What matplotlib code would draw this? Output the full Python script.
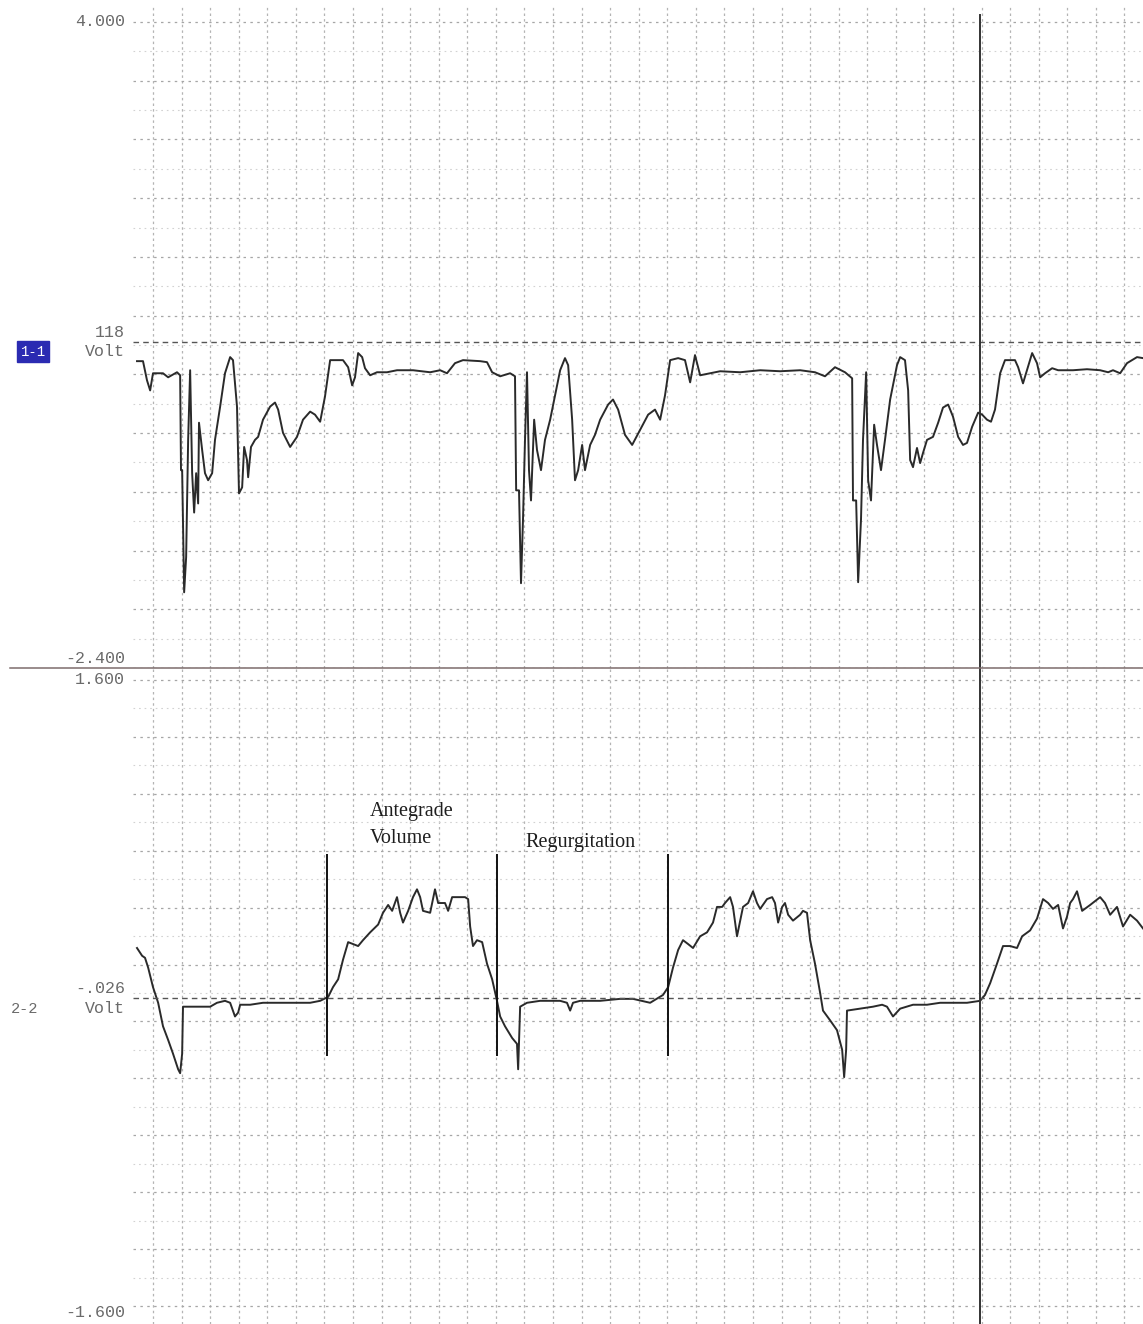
import numpy as np
import matplotlib
matplotlib.use("Agg")
import matplotlib.pyplot as plt
from matplotlib.lines import Line2D
from matplotlib.ticker import MultipleLocator
from matplotlib.transforms import blended_transform_factory

# ---- channel 1 (pressure-type signal), time in ms, value in volts ----
t_ch1 = [14, 35, 49, 60, 70, 105, 123, 154, 165, 168, 172, 179, 186, 193, 200, 207, 214, 221, 228, 231,
         242, 252, 263, 277, 287, 305, 322, 340, 350, 364, 371, 382, 389, 399, 403, 413, 427, 438, 455, 480,
         497, 508, 525, 550, 574, 595, 620, 637, 655, 672, 690, 707, 735, 753, 767, 777, 788, 802, 812, 830,
         854, 889, 924, 980, 1040, 1075, 1099, 1127, 1155, 1215, 1239, 1257, 1285, 1320, 1337,
         1341, 1351, 1358, 1365, 1372, 1379, 1386, 1393, 1404, 1414, 1428, 1442, 1460, 1477, 1495, 1512,
         1523, 1537, 1547, 1558, 1572, 1582, 1600, 1617, 1635, 1663, 1680, 1698, 1722, 1747, 1775, 1803,
         1827, 1845, 1862, 1880, 1908, 1932, 1950, 1967, 1985, 2020, 2055, 2125, 2195, 2265, 2335, 2387,
         2422, 2457, 2492, 2517,
         2520, 2531, 2538, 2548, 2555, 2566, 2573, 2583, 2594, 2604, 2618, 2632, 2650, 2674, 2685, 2702,
         2713, 2720, 2730, 2744, 2755, 2765, 2779, 2800, 2818, 2835, 2853, 2870, 2888, 2905, 2919, 2937,
         2958, 2972, 2989, 3003, 3017, 3035, 3052, 3087, 3098, 3115, 3129, 3147, 3164, 3175, 3192, 3217,
         3238, 3290, 3339, 3385, 3413, 3430, 3455, 3479, 3514, 3535]
v_ch1 = [0.64, 0.64, 0.45, 0.35, 0.52, 0.52, 0.48, 0.53, 0.50, -0.44, -0.44, -1.65, -1.30, -0.14, 0.55,
         -0.47, -0.86, -0.47, -0.77, 0.03, -0.24, -0.47, -0.54, -0.47, -0.14, 0.19, 0.52, 0.68, 0.65, 0.19,
         -0.67, -0.61, -0.21, -0.34, -0.51, -0.21, -0.14, -0.11, 0.06, 0.19, 0.23, 0.16, -0.07, -0.21, -0.11,
         0.06, 0.14, 0.11, 0.04, 0.29, 0.65, 0.65, 0.65, 0.58, 0.40, 0.48, 0.72, 0.68, 0.57, 0.50,
         0.53, 0.53, 0.55, 0.55, 0.53, 0.55, 0.52, 0.62, 0.65, 0.64, 0.63, 0.53, 0.49, 0.52, 0.49,
         -0.64, -0.64, -1.56, -0.93, -0.14, 0.53, -0.44, -0.74, 0.06, -0.24, -0.44, -0.14, 0.06, 0.30, 0.55,
         0.67, 0.60, 0.06, -0.54, -0.44, -0.19, -0.44, -0.19, -0.09, 0.06, 0.21, 0.26, 0.16, -0.09, -0.19,
         -0.04, 0.11, 0.16, 0.06, 0.30, 0.65, 0.67, 0.65, 0.43, 0.70, 0.50, 0.52, 0.54, 0.53, 0.55, 0.54,
         0.55, 0.53, 0.49, 0.58, 0.53, 0.47,
         -0.74, -0.74, -1.55, -0.93, -0.14, 0.53, -0.54, -0.74, 0.01, -0.19, -0.44, -0.14, 0.26, 0.60, 0.68,
         0.65, 0.35, -0.34, -0.41, -0.22, -0.37, -0.27, -0.14, -0.11, 0.03, 0.18, 0.21, 0.09, -0.11, -0.19,
         -0.17, -0.01, 0.13, 0.11, 0.06, 0.04, 0.16, 0.52, 0.65, 0.65, 0.58, 0.42, 0.55, 0.72, 0.62, 0.48,
         0.52, 0.57, 0.55, 0.55, 0.56, 0.55, 0.53, 0.55, 0.52, 0.62, 0.68, 0.67]

# ---- channel 2 (flow signal), time in ms, value in volts ----
t_ch2 = [14, 32, 42, 53, 70, 88, 105, 123, 140, 158, 165, 172, 175, 224, 270, 294, 322, 340, 357, 368,
         375, 410, 455, 515, 574, 620, 655, 683, 700, 718, 735, 753, 770, 788, 805, 830, 858, 875, 893, 907,
         924, 935, 945, 963, 980, 994, 1005, 1015, 1040, 1050, 1057, 1068, 1092, 1103, 1117, 1138, 1162,
         1173, 1180, 1190, 1204, 1222, 1239, 1257, 1274, 1285, 1302, 1327, 1344, 1348, 1355, 1379, 1425,
         1495, 1519, 1530, 1540, 1565, 1635, 1705, 1750, 1810, 1855, 1873, 1890, 1908, 1925, 1943, 1960,
         1985, 2009, 2030, 2044, 2062, 2072, 2090, 2100, 2114, 2125, 2135, 2153, 2170, 2184, 2195, 2219,
         2237, 2247, 2258, 2272, 2282, 2293, 2310, 2335, 2345, 2359, 2370, 2387, 2405, 2415, 2440, 2464,
         2482, 2489, 2496, 2499, 2545, 2590, 2622, 2639, 2660, 2685, 2730, 2779, 2825, 2870, 2919, 2965,
         2982, 3000, 3024, 3045, 3070, 3094, 3112, 3140, 3164, 3185, 3203, 3220, 3238, 3255, 3269, 3280,
         3290, 3304, 3322, 3350, 3385, 3402, 3420, 3444, 3465, 3490, 3514, 3535]
v_ch2 = [0.23, 0.19, 0.18, 0.13, 0.03, -0.05, -0.17, -0.24, -0.31, -0.39, -0.41, -0.31, -0.07, -0.07,
         -0.07, -0.05, -0.04, -0.05, -0.12, -0.10, -0.06, -0.06, -0.05, -0.05, -0.05, -0.05, -0.04, -0.02,
         0.03, 0.07, 0.17, 0.26, 0.25, 0.24, 0.27, 0.31, 0.35, 0.41, 0.45, 0.42, 0.49, 0.41, 0.36, 0.42,
         0.49, 0.53, 0.49, 0.42, 0.41, 0.48, 0.53, 0.46, 0.46, 0.42, 0.49, 0.49, 0.49, 0.48, 0.34, 0.24,
         0.27, 0.26, 0.15, 0.07, -0.04, -0.12, -0.17, -0.23, -0.26, -0.39, -0.07, -0.05, -0.04, -0.04,
         -0.05, -0.09, -0.05, -0.04, -0.04, -0.03, -0.03, -0.05, -0.01, 0.03, 0.13, 0.22, 0.27, 0.25, 0.23,
         0.29, 0.31, 0.36, 0.44, 0.44, 0.46, 0.49, 0.44, 0.29, 0.37, 0.44, 0.46, 0.52, 0.46, 0.43, 0.48,
         0.49, 0.46, 0.36, 0.44, 0.46, 0.40, 0.37, 0.40, 0.42, 0.41, 0.27, 0.15, 0.00, -0.09, -0.14, -0.19,
         -0.29, -0.43, -0.29, -0.09, -0.08, -0.07, -0.06, -0.07, -0.12, -0.08, -0.06, -0.06, -0.05, -0.05,
         -0.05, -0.04, -0.01, 0.05, 0.15, 0.24, 0.24, 0.23, 0.29, 0.32, 0.38, 0.48, 0.46, 0.43, 0.45, 0.33,
         0.39, 0.46, 0.48, 0.52, 0.42, 0.45, 0.49, 0.46, 0.40, 0.44, 0.34, 0.40, 0.37, 0.33]

# reference levels, scale ends and markers
ch1_range = (-2.4, 4.0)
ch2_range = (-1.6, 1.6)
ch1_ref = 0.83
ch2_ref = -0.026
ch1_ref_label = "118"
ch2_ref_label = "-.026"
phase_marks = [679, 1274, 1872]          # ms, start/end of forward flow and regurgitation
phase_span = (-0.32, 0.71)               # volts, extent of the phase markers
cursor_t = 2965                          # ms
t_end = 3535

GRID_COL = "#b4b4b4"
TRACE_COL = "#2a2a2a"
LABEL_FONT = "Liberation Mono"
LABEL_COL = "#6a6a6a"

W, H = 1143, 1324
fig = plt.figure(figsize=(W / 100, H / 100), dpi=100)
fig.patch.set_facecolor("white")

left = 133 / W
ax1 = fig.add_axes([left, 1 - 668 / H, 1 - left, 663 / H])
ax2 = fig.add_axes([left, 0, 1 - left, 656 / H], sharex=ax1)

# data limits chosen so each channel's scale ends sit on its outermost grid lines
px1 = (ch1_range[1] - ch1_range[0]) / 646.0
ax1.set_ylim(ch1_range[0], ch1_range[1] + 17 * px1)
px2 = (ch2_range[1] - ch2_range[0]) / 626.0
ax2.set_ylim(ch2_range[1] - 644 * px2, ch2_range[1] + 12 * px2)
ax1.set_xlim(0, t_end)

for ax, (lo, hi) in ((ax1, ch1_range), (ax2, ch2_range)):
    for s in ax.spines.values():
        s.set_visible(False)
    step = (hi - lo) / 22.0
    levels = hi - step * np.arange(23)
    ax.set_yticks(levels[::2])
    ax.set_yticks(levels[1::2], minor=True)
    ax.xaxis.set_major_locator(MultipleLocator(100, offset=70))
    ax.tick_params(which="both", length=0, labelleft=False, labelbottom=False)
    ax.grid(True, which="major", axis="y", color="#a6a6a6", lw=0.9, ls=(0, (2, 3.5)))
    ax.grid(True, which="minor", axis="y", color="#d2d2d2", lw=0.8, ls=(0, (1.5, 3.5)))
    ax.grid(True, which="major", axis="x", color=GRID_COL, lw=0.9, ls=(0, (2, 2.5)))
    ax.set_axisbelow(True)

# traces
ax1.plot(t_ch1, v_ch1, color=TRACE_COL, lw=1.4, solid_joinstyle="round")
ax2.plot(t_ch2, v_ch2, color=TRACE_COL, lw=1.4, solid_joinstyle="round")

# reference (zero) levels
ax1.axhline(ch1_ref, color="#555555", lw=1.0, ls=(0, (4, 3)))
ax2.axhline(ch2_ref, color="#555555", lw=1.0, ls=(0, (4, 3)))

# phase markers on channel 2
ax2.vlines(phase_marks, phase_span[0], phase_span[1], color="#111111", lw=1.4)

# time cursor through both channels
ax1.axvline(cursor_t, ymin=0, ymax=1 - 10 / 663, color="#333333", lw=1.4)
ax2.axvline(cursor_t, ymin=0, ymax=1, color="#333333", lw=1.4)

# separator between channels
fig.add_artist(Line2D([10 / W, 1], [1 - 668 / H] * 2, transform=fig.transFigure,
                      color="#7d6c6c", lw=1.1))

# scale labels
def scale_label(ax, y, text, dy=0):
    tr = blended_transform_factory(ax.transAxes, ax.transData)
    ax.annotate(text, xy=(-8 / 1010, y), xycoords=tr, xytext=(0, dy), textcoords="offset points",
                ha="right", va="center", fontsize=12, family=LABEL_FONT, color=LABEL_COL,
                annotation_clip=False)

scale_label(ax1, ch1_range[1], "4.000")
scale_label(ax1, ch1_ref, ch1_ref_label, 6.5)
scale_label(ax1, ch1_ref, "Volt", -7)
scale_label(ax1, ch1_range[0], "-2.400", 6.5)
scale_label(ax2, ch2_range[1], "1.600")
scale_label(ax2, ch2_ref, ch2_ref_label, 7)
scale_label(ax2, ch2_ref, "Volt", -7.5)
scale_label(ax2, ch2_range[0], "-1.600", -4.5)

# channel tags
tr1 = blended_transform_factory(fig.transFigure, ax1.transData)
ax1.annotate("1-1", xy=(33 / W, ch1_ref), xycoords=tr1, xytext=(0, -7), textcoords="offset points",
             ha="center", va="center", fontsize=10, family=LABEL_FONT, color="white",
             bbox=dict(boxstyle="square,pad=0.25", fc="#2b2bb2", ec="#2b2bb2"),
             annotation_clip=False)
tr2 = blended_transform_factory(fig.transFigure, ax2.transData)
ax2.annotate("2-2", xy=(25 / W, ch2_ref), xycoords=tr2, xytext=(0, -7.5), textcoords="offset points",
             ha="center", va="center", fontsize=11, family=LABEL_FONT, color=LABEL_COL,
             annotation_clip=False)

# phase annotations
serif = dict(family="Liberation Serif", fontsize=14.5, color="#1e1e1e", va="center", ha="left")
ax2.text(830, 0.93, "Antegrade", **serif)
ax2.text(830, 0.79, "Volume", **serif)
ax2.text(1372, 0.77, "Regurgitation", **serif)

fig.savefig("out.png", dpi=100, facecolor="white")
